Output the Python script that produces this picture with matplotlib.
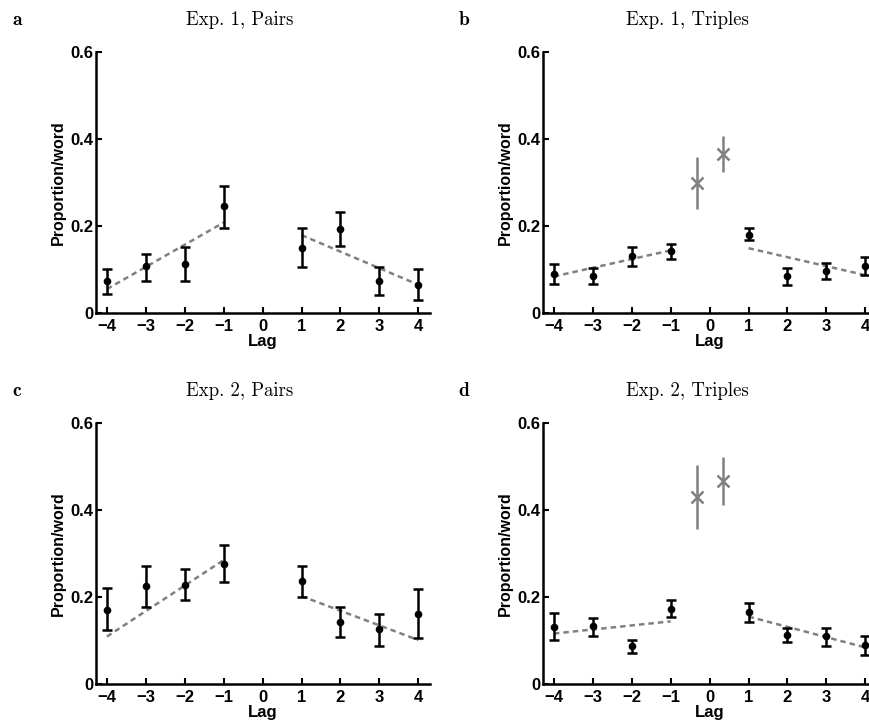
import matplotlib
matplotlib.use('Agg')
import matplotlib.pyplot as plt

# lag positions shared by all panels
lags = [-4, -3, -2, -1, 1, 2, 3, 4]
cross_lags = [-1 / 3, 1 / 3]

# Exp. 1, Pairs
e1p_mean = [0.073, 0.107, 0.113, 0.245, 0.149, 0.193, 0.073, 0.065]
e1p_top = [0.101, 0.136, 0.152, 0.293, 0.196, 0.232, 0.105, 0.101]
e1p_bot = [0.043, 0.074, 0.074, 0.195, 0.105, 0.155, 0.041, 0.031]
e1p_fit = [0.055, 0.208, 0.179, 0.065]

# Exp. 1, Triples
e1t_mean = [0.090, 0.084, 0.130, 0.143, 0.180, 0.084, 0.097, 0.109]
e1t_top = [0.113, 0.103, 0.152, 0.159, 0.195, 0.103, 0.115, 0.129]
e1t_bot = [0.067, 0.067, 0.107, 0.124, 0.167, 0.064, 0.078, 0.088]
e1t_fit = [0.084, 0.144, 0.149, 0.087]
e1t_cross = [0.299, 0.366]
e1t_cross_top = [0.358, 0.406]
e1t_cross_bot = [0.239, 0.325]

# Exp. 2, Pairs
e2p_mean = [0.171, 0.225, 0.228, 0.277, 0.236, 0.142, 0.126, 0.161]
e2p_top = [0.220, 0.271, 0.264, 0.320, 0.272, 0.176, 0.162, 0.218]
e2p_bot = [0.123, 0.178, 0.192, 0.234, 0.200, 0.107, 0.087, 0.105]
e2p_fit = [0.109, 0.285, 0.202, 0.101]

# Exp. 2, Triples
e2t_mean = [0.132, 0.133, 0.087, 0.173, 0.166, 0.112, 0.110, 0.090]
e2t_top = [0.163, 0.152, 0.101, 0.192, 0.187, 0.129, 0.129, 0.110]
e2t_bot = [0.101, 0.110, 0.071, 0.155, 0.143, 0.096, 0.088, 0.067]
e2t_fit = [0.116, 0.144, 0.155, 0.084]
e2t_cross = [0.431, 0.467]
e2t_cross_top = [0.503, 0.521]
e2t_cross_bot = [0.356, 0.412]

GRAY = '#808080'
TICK_FONT = {'family': 'Liberation Sans', 'weight': 'bold', 'size': 12}


def draw_panel(ax, mean, top, bot, fit, cross=None, cross_top=None, cross_bot=None):
    '''
    Draws one lag panel: fit lines, black points with error bars, gray crosses
    '''
    # dashed fit lines for negative and positive lags
    ax.plot([-4, -1], fit[:2], ls=(0, (2.2, 1.6)), color=GRAY, lw=1.8, zorder=2)
    ax.plot([1, 4], fit[2:], ls=(0, (2.2, 1.6)), color=GRAY, lw=1.8, zorder=2)

    lower = [m - b for m, b in zip(mean, bot)]
    upper = [t - m for m, t in zip(mean, top)]
    ax.errorbar(lags, mean, yerr=[lower, upper], fmt='o', color='black', ms=4.5,
                elinewidth=1.8, capsize=3.5, capthick=1.8, zorder=3)

    if cross is not None:
        lower = [m - b for m, b in zip(cross, cross_bot)]
        upper = [t - m for m, t in zip(cross, cross_top)]
        ax.errorbar(cross_lags, cross, yerr=[lower, upper], fmt='x', color=GRAY, ms=8,
                    mew=1.8, elinewidth=1.8, capsize=0, zorder=3)

    ax.set_xlim(-4.28, 4.3)
    ax.set_ylim(0, 0.6)
    ax.set_xticks(range(-4, 5))
    ax.set_yticks([0, 0.2, 0.4, 0.6])
    ax.set_yticklabels(['0', '0.2', '0.4', '0.6'])
    for lab in ax.get_xticklabels() + ax.get_yticklabels():
        lab.set_fontproperties(TICK_FONT)
    ax.tick_params(direction='in', length=4, width=1.5, pad=2)
    ax.tick_params(axis='x', pad=4)
    ax.spines['top'].set_visible(False)
    ax.spines['right'].set_visible(False)
    ax.spines['left'].set_linewidth(1.8)
    ax.spines['bottom'].set_linewidth(1.8)
    ax.set_xlabel('Lag', family='Liberation Sans', weight='bold', size=12, labelpad=0)
    ax.set_ylabel('Proportion/word', family='Liberation Sans', weight='bold', size=11.5, labelpad=3)


fig = plt.figure(figsize=(8.7, 7.22), dpi=100)
W, H = 870.0, 722.0

# axes boxes in pixels: left, bottom spine y, top y
boxes = {
    'a': (96, 313, 52),
    'b': (543, 313, 52),
    'c': (96, 684, 423),
    'd': (543, 684, 423),
}
width_px = 334

panels = [
    ('a', 'Exp. 1, Pairs', e1p_mean, e1p_top, e1p_bot, e1p_fit, None, None, None),
    ('b', 'Exp. 1, Triples', e1t_mean, e1t_top, e1t_bot, e1t_fit, e1t_cross, e1t_cross_top, e1t_cross_bot),
    ('c', 'Exp. 2, Pairs', e2p_mean, e2p_top, e2p_bot, e2p_fit, None, None, None),
    ('d', 'Exp. 2, Triples', e2t_mean, e2t_top, e2t_bot, e2t_fit, e2t_cross, e2t_cross_top, e2t_cross_bot),
]

for letter, title, mean, top, bot, fit, cross, ctop, cbot in panels:
    left, bottom, topy = boxes[letter]
    ax = fig.add_axes([left / W, 1 - bottom / H, width_px / W, (bottom - topy) / H])
    draw_panel(ax, mean, top, bot, fit, cross, ctop, cbot)
    # panel letter and serif title above each axes
    ty = topy - 32
    fig.text((left - 79) / W, 1 - ty / H, letter, family='cmb10',
             size=14, ha='center', va='center')
    fig.text((left + 144) / W, 1 - ty / H, title, family='cmr10', size=13.5,
             ha='center', va='center')

fig.savefig('out.png', dpi=100)
